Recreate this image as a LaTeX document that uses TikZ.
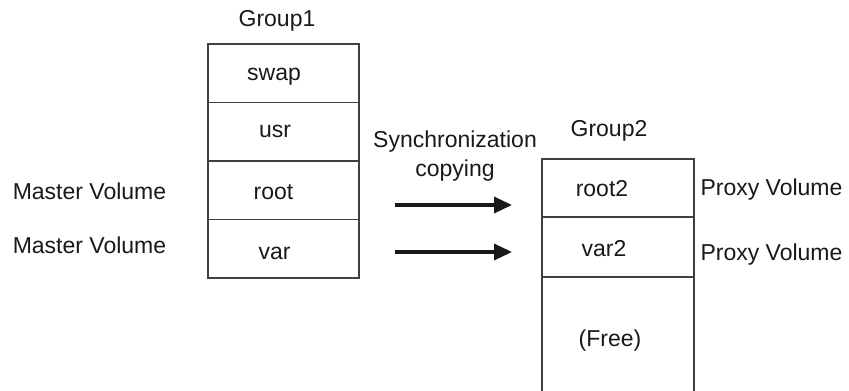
\documentclass[tikz,border=0pt]{standalone}
\usepackage{fontspec}
\setmainfont{Liberation Sans}
\usetikzlibrary{arrows.meta}
\begin{document}
\begin{tikzpicture}[x=1pt,y=-1pt,
  cell/.style={draw=black!75,line width=1.6pt,minimum width=151pt,inner sep=0pt,outer sep=0pt},
  lbl/.style={font=\fontsize{23}{27}\selectfont,anchor=base,inner sep=0pt,text=black!90},
  arr/.style={draw=black!90,line width=3.4pt,-{Triangle[length=18pt,width=16pt]}}]
\useasboundingbox (0,0) rectangle (849,391);
% Group1 stack
\node[cell,minimum height=58.5pt] (swap) at (283.5,73.25) {};
\node[cell,minimum height=58.5pt] (usr) at (283.5,131.75) {};
\node[cell,minimum height=58.5pt] (root) at (283.5,190.25) {};
\node[cell,minimum height=58.5pt] (var) at (283.5,248.75) {};
% Group2 stack
\node[cell,minimum height=58pt,minimum width=152pt] (root2) at (618,188) {};
\node[cell,minimum height=60pt,minimum width=152pt] (var2) at (618,247) {};
\node[cell,minimum height=116pt,minimum width=152pt] (free) at (618,335) {};
% labels
\node[lbl] (g1) at (277,26.5) {Group1};
\node[lbl] (tswap) at (274,80) {swap};
\node[lbl] (tusr) at (275,137) {usr};
\node[lbl] (troot) at (273.5,199) {root};
\node[lbl] (tvar) at (274.5,259) {var};
\node[lbl] (g2) at (609,136.5) {Group2};
\node[lbl] (sync) at (455,147) {Synchronization};
\node[lbl] (copy) at (455,176.5) {copying};
\node[lbl] (troot2) at (602,196) {root2};
\node[lbl] (tvar2) at (604,256.5) {var2};
\node[lbl] (tfree) at (610,346.5) {(Free)};
\node[lbl] (m1) at (89.5,199) {Master Volume};
\node[lbl] (m2) at (89.5,253) {Master Volume};
\node[lbl] (p1) at (771.5,195) {Proxy Volume};
\node[lbl] (p2) at (771.5,260) {Proxy Volume};
% arrows
\coordinate (a1s) at (395,205);
\coordinate (a1e) at (512,205);
\coordinate (a2s) at (395,252);
\coordinate (a2e) at (512,252);
\draw[arr] (a1s) -- (a1e);
\draw[arr] (a2s) -- (a2e);
\end{tikzpicture}
\end{document}
